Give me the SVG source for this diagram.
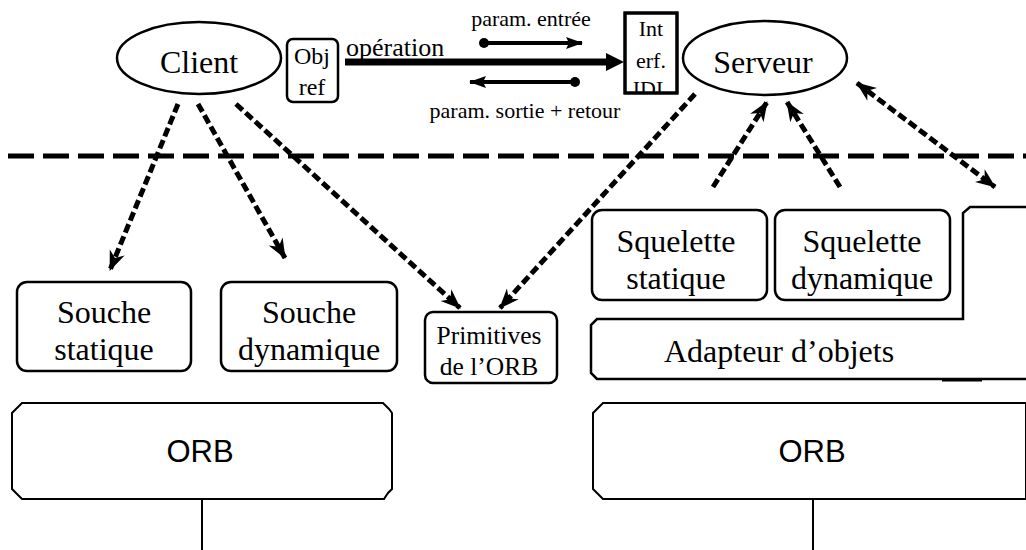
<svg xmlns="http://www.w3.org/2000/svg" width="1026" height="550" viewBox="0 0 1026 550">
<style>
  .serif { font-family: "Liberation Serif", "Times New Roman", serif; fill: #000; }
  .sans { font-family: "Liberation Sans", Arial, sans-serif; fill: #000; }
  .box { fill: #fff; stroke: #000; stroke-width: 2.5; }
  .thin { fill: #fff; stroke: #000; stroke-width: 2; }
  .dash { fill: none; stroke: #000; stroke-width: 5; stroke-dasharray: 9 4; }
</style>
<defs>
  <marker id="ah" markerUnits="userSpaceOnUse" markerWidth="22" markerHeight="18" refX="19" refY="8" orient="auto-start-reverse" viewBox="0 0 22 16">
    <path d="M0,0 L20,8 L0,16 L6,8 z" fill="#000"/>
  </marker>
  <marker id="ah2" markerUnits="userSpaceOnUse" markerWidth="18" markerHeight="14" refX="16" refY="6" orient="auto" viewBox="0 0 18 12">
    <path d="M0,0 L17,6 L0,12 L3,6 z" fill="#000"/>
  </marker>
  <clipPath id="idlclip"><rect x="625" y="13" width="52" height="80"/></clipPath>
</defs>

<!-- separator -->
<line x1="8" y1="156" x2="1026" y2="156" stroke="#000" stroke-width="5" stroke-dasharray="26 9"/>

<g id="connectors">
  <line class="dash" x1="178" y1="104" x2="110" y2="270" marker-end="url(#ah)"/>
  <line class="dash" x1="198" y1="104" x2="285" y2="258" marker-end="url(#ah)"/>
  <line class="dash" x1="236" y1="104" x2="460" y2="308" marker-end="url(#ah)"/>
  <line class="dash" x1="695" y1="94" x2="500" y2="308" marker-end="url(#ah)"/>
  <line class="dash" x1="713" y1="187" x2="767" y2="102" marker-end="url(#ah)"/>
  <line class="dash" x1="840" y1="187" x2="787" y2="102" marker-end="url(#ah)"/>
  <line class="dash" x1="857" y1="83" x2="995" y2="187" marker-start="url(#ah)" marker-end="url(#ah)"/>
  <!-- operation arrow -->
  <line x1="345" y1="62" x2="610" y2="62" stroke="#000" stroke-width="7"/>
  <polygon points="606,53 624,62 606,71" fill="#000"/>
  <!-- param arrows -->
  <line x1="483" y1="43" x2="582" y2="43" stroke="#000" stroke-width="4" marker-end="url(#ah2)"/>
  <circle cx="484" cy="43" r="5" fill="#000"/>
  <line x1="576" y1="82" x2="470" y2="82" stroke="#000" stroke-width="4" marker-end="url(#ah2)"/>
  <circle cx="575" cy="82" r="5" fill="#000"/>
  <!-- ORB down lines -->
  <line x1="202" y1="499" x2="202" y2="550" stroke="#000" stroke-width="2"/>
  <line x1="813" y1="499" x2="813" y2="550" stroke="#000" stroke-width="2"/>
</g>

<g id="labels">
  <text class="serif" x="346" y="56" font-size="26">opération</text>
  <text class="serif" x="531" y="26" font-size="22" text-anchor="middle">param. entrée</text>
  <text class="serif" x="525" y="118" font-size="22" text-anchor="middle">param. sortie + retour</text>
</g>

<g id="client">
  <ellipse cx="199" cy="58" rx="82" ry="36" class="box"/>
  <text class="serif" x="199" y="73" font-size="32" text-anchor="middle">Client</text>
</g>

<g id="objref">
  <rect x="287" y="39" width="51" height="63" rx="6" class="box"/>
  <text class="serif" x="312" y="64" font-size="24" text-anchor="middle">Obj</text>
  <text class="serif" x="312" y="95" font-size="24" text-anchor="middle">ref</text>
</g>

<g id="interf">
  <rect x="625" y="13" width="52" height="80" fill="#fff" stroke="#000" stroke-width="3"/>
  <g clip-path="url(#idlclip)">
    <text class="serif" x="651" y="36" font-size="22" text-anchor="middle">Int</text>
    <text class="serif" x="651" y="68" font-size="22" text-anchor="middle">erf.</text>
    <text class="serif" x="651" y="96" font-size="22" text-anchor="middle">IDL</text>
  </g>
  <rect x="625" y="13" width="52" height="80" fill="none" stroke="#000" stroke-width="3"/>
</g>

<g id="serveur">
  <ellipse cx="765" cy="58" rx="82" ry="37" class="box"/>
  <text class="serif" x="763" y="73" font-size="32" text-anchor="middle">Serveur</text>
</g>

<g id="souche-statique">
  <rect x="17" y="282" width="174" height="89" rx="10" class="box"/>
  <text class="serif" x="104" y="323" font-size="32" text-anchor="middle">Souche</text>
  <text class="serif" x="104" y="360" font-size="32" text-anchor="middle">statique</text>
</g>

<g id="souche-dynamique">
  <rect x="221" y="282" width="176" height="89" rx="10" class="box"/>
  <text class="serif" x="309" y="323" font-size="32" text-anchor="middle">Souche</text>
  <text class="serif" x="309" y="360" font-size="32" text-anchor="middle">dynamique</text>
</g>

<g id="primitives">
  <rect x="425" y="312" width="132" height="71" rx="8" class="box"/>
  <text class="serif" x="489" y="344" font-size="25.5" text-anchor="middle">Primitives</text>
  <text class="serif" x="489" y="375" font-size="25.5" text-anchor="middle">de l’ORB</text>
</g>

<g id="squelette-statique">
  <rect x="592" y="210" width="175" height="90" rx="10" class="box"/>
  <text class="serif" x="676" y="252" font-size="32" text-anchor="middle">Squelette</text>
  <text class="serif" x="676" y="289" font-size="32" text-anchor="middle">statique</text>
</g>

<g id="squelette-dynamique">
  <rect x="775" y="210" width="175" height="90" rx="10" class="box"/>
  <text class="serif" x="862" y="252" font-size="32" text-anchor="middle">Squelette</text>
  <text class="serif" x="862" y="289" font-size="32" text-anchor="middle">dynamique</text>
</g>

<g id="adapteur">
  <path d="M1026,207 L970,207 L963,213 L963,319 L597,319 L591,325 L591,373 L597,379 L1026,379" class="box"/>
  <line x1="942" y1="380" x2="982" y2="380" stroke="#000" stroke-width="3"/>
  <text class="serif" x="779" y="362" font-size="32" text-anchor="middle">Adapteur d’objets</text>
</g>

<g id="orb-client">
  <path d="M22,403 L383,403 L389,409 L392,413 L392,489 L388,493 L384,499 L22,499 L16,493 L12,489 L12,413 L16,409 Z" class="thin"/>
  <text class="sans" x="200" y="462" font-size="31" text-anchor="middle">ORB</text>
</g>

<g id="orb-serveur">
  <path d="M603,403 L1026,403 L1026,499 L603,499 L597,493 L593,489 L593,413 L597,409 Z" class="thin"/>
  <text class="sans" x="812" y="462" font-size="31" text-anchor="middle">ORB</text>
</g>
</svg>
